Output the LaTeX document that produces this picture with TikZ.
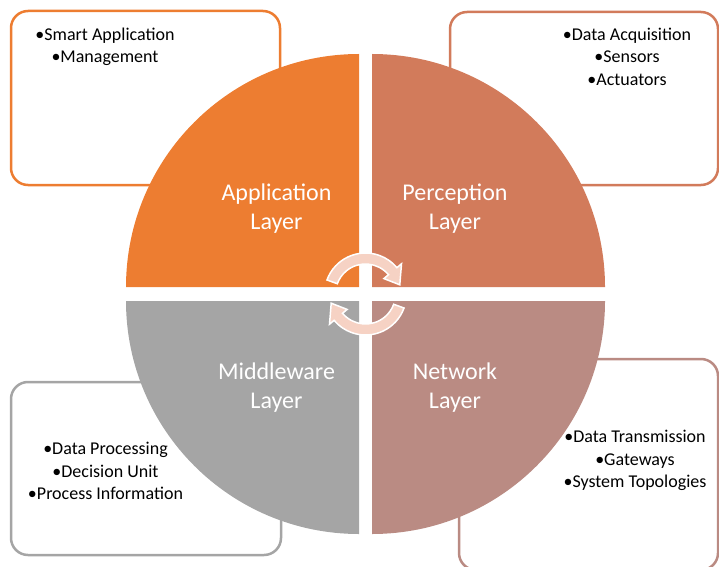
\documentclass[tikz,border=0pt]{standalone}
\usepackage{fontspec}
\setmainfont{Carlito}
\definecolor{cApp}{HTML}{ED7D31}
\definecolor{cPer}{HTML}{D27B5B}
\definecolor{cNet}{HTML}{BA8B83}
\definecolor{cMid}{HTML}{A5A5A5}
\definecolor{cArr}{HTML}{F6D2C4}
\begin{document}
\begin{tikzpicture}[x=1pt,y=1pt,
  infobox/.style={line width=2.5pt, rounded corners=17pt},
  quarter/.style={draw=none},
  layerlabel/.style={text=white, align=center, font=\fontsize{24}{29}\selectfont, inner sep=0pt},
  bullets/.style={text=black, align=center, font=\fontsize{18}{22.5}\selectfont, inner sep=0pt},
  cyclearrow/.style={fill=cArr, draw=white, line width=1.5pt, line join=miter}]
\useasboundingbox (0,0) rectangle (719,566);
% boxes
\draw[infobox, draw=cApp] (11,381) rectangle (280,555);
\draw[infobox, draw=cPer] (450,381) rectangle (718,554);
\draw[infobox, draw=cMid] (11,11) rectangle (281,184);
\draw[infobox, draw=cNet] (459,-4) rectangle (718,207);
% quarters
\fill[cApp] (359,279) -- (126,279) arc[start angle=180, end angle=90, radius=233] -- cycle;
\fill[cPer] (372,279) -- (372,512) arc[start angle=90, end angle=0, radius=233] -- cycle;
\fill[cMid] (359,265) -- (359,32) arc[start angle=270, end angle=180, radius=233] -- cycle;
\fill[cNet] (372,265) -- (605,265) arc[start angle=0, end angle=-90, radius=233] -- cycle;
% centre arrows
\begin{scope}[shift={(365.5,272)}]
\filldraw[cyclearrow] (160:41) arc[start angle=160, end angle=40, radius=41] -- (40:47) -- (15:35.5) -- (40:24) -- (40:30) arc[start angle=40, end angle=160, radius=30] -- cycle;
\filldraw[cyclearrow] (340:41) arc[start angle=340, end angle=220, radius=41] -- (220:47) -- (195:35.5) -- (220:24) -- (220:30) arc[start angle=220, end angle=340, radius=30] -- cycle;
\end{scope}
% layer labels
\node[layerlabel] (app) at (276.5,357.5) {Application\\Layer};
\node[layerlabel] (per) at (455,357.5) {Perception\\Layer};
\node[layerlabel] (mid) at (276.5,178.5) {Middleware\\Layer};
\node[layerlabel] (net) at (455,178.5) {Network\\Layer};
% bullet texts
\node[bullets] (tapp) at (105,519) {•Smart Application\\•Management};
\node[bullets] (tper) at (627,509.5) {•Data Acquisition\\•Sensors\\•Actuators};
\node[bullets] (tmid) at (105.5,95) {•Data Processing\\•Decision Unit\\•Process Information};
\node[bullets] (tnet) at (635,105.5) {•Data Transmission\\•Gateways\\•System Topologies};
\end{tikzpicture}
\end{document}
